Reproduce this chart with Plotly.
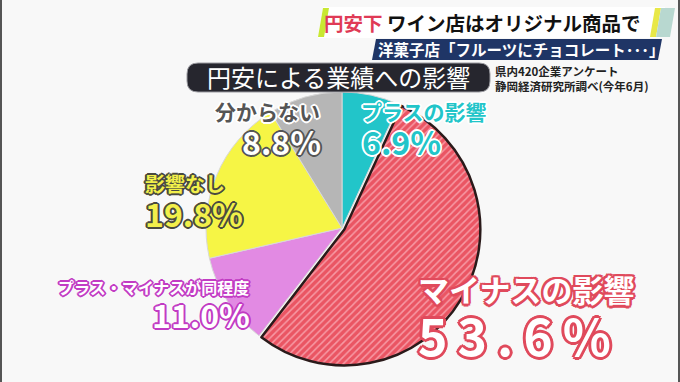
import plotly.graph_objects as go

W, H = 680, 382

# ---- data ----
labels = ["プラスの影響", "マイナスの影響", "プラス・マイナスが同程度", "影響なし", "分からない"]
values = [6.9, 53.6, 11.0, 19.8, 8.8]
slice_colors = ["#22c5c9", "#ea5563", "#e28ae3", "#f6f545", "#b6b6b6"]

title_text = "円安による業績への影響"
source_lines = ["県内420企業アンケート", "静岡経済研究所調べ(今年6月)"]
headline_red = "円安下"
headline_black = "ワイン店はオリジナル商品で"
subheadline = "洋菓子店「フルーツにチョコレート･･･」"

FONT = "Noto Sans CJK JP"
value_text = [f"{v:.1f}%" for v in values]


def px(x):
    return x / W


def py(y):
    return 1 - y / H


def outline(c, w=2):
    offs = [(w, 0), (-w, 0), (0, w), (0, -w), (w * .7, w * .7), (-w * .7, w * .7),
            (w * .7, -w * .7), (-w * .7, -w * .7)]
    return ", ".join(f"{a:.1f}px {b:.1f}px 0 {c}" for a, b in offs)


fig = go.Figure()

# pie geometry (pixel centre / radius)
cx, cy, r, pull = 342, 228, 136, 0.02
half = r * (1 + pull)
fig.add_trace(go.Pie(
    labels=labels, values=values, sort=False, direction="clockwise", rotation=0,
    textinfo="none", hoverinfo="label+percent", showlegend=False,
    pull=[0, pull, 0, 0, 0],
    marker=dict(
        colors=slice_colors,
        line=dict(color=["#d8d8d8", "#2a1a1a", "#d8d8d8", "#d8d8d8", "#d8d8d8"],
                  width=[1, 2.5, 1, 1, 1]),
        pattern=dict(shape=["", "/", "", "", ""], fgcolor="#f79aa5",
                     bgcolor=slice_colors, size=5, solidity=0.3),
    ),
    domain=dict(x=[px(cx - half), px(cx + half)], y=[py(cy + half), py(cy - half)]),
))

shapes = []
# edge borders
shapes.append(dict(type="rect", xref="paper", yref="paper", x0=0, x1=px(2), y0=0, y1=1,
                   fillcolor="#555", line_width=0, layer="above"))
shapes.append(dict(type="rect", xref="paper", yref="paper", x0=px(678), x1=1, y0=0, y1=1,
                   fillcolor="#555", line_width=0, layer="above"))


def para(x0, x1, y0, y1, skew):
    return (f"M {px(x0 + skew)} {py(y0)} L {px(x1 + skew)} {py(y0)} "
            f"L {px(x1)} {py(y1)} L {px(x0)} {py(y1)} Z")

shapes.append(dict(type="path", xref="paper", yref="paper", path=para(318, 660, 7, 38, 5),
                   fillcolor="white", line_width=0))
shapes.append(dict(type="path", xref="paper", yref="paper", path=para(318, 324, 8, 37, 5),
                   fillcolor="#c8e832", line_width=0))
shapes.append(dict(type="path", xref="paper", yref="paper", path=para(650, 656, 8, 37, 5),
                   fillcolor="#e8e848", line_width=0))
shapes.append(dict(type="path", xref="paper", yref="paper", path=para(656, 670, 8, 37, 5),
                   fillcolor="#b8d8d0", line_width=0))
shapes.append(dict(type="path", xref="paper", yref="paper", path=para(372, 658, 39, 60, 4),
                   fillcolor="#1f3566", line_width=0))


def rrect(x0, y0, x1, y1, rad):
    rx, ry = rad / W, rad / H
    X0, X1, Y0, Y1 = px(x0), px(x1), py(y1), py(y0)
    return (f"M {X0 + rx} {Y0} L {X1 - rx} {Y0} Q {X1} {Y0} {X1} {Y0 + ry} "
            f"L {X1} {Y1 - ry} Q {X1} {Y1} {X1 - rx} {Y1} L {X0 + rx} {Y1} "
            f"Q {X0} {Y1} {X0} {Y1 - ry} L {X0} {Y0 + ry} Q {X0} {Y0} {X0 + rx} {Y0} Z")

shapes.append(dict(type="path", xref="paper", yref="paper", path=rrect(187, 63, 490, 92, 11),
                   fillcolor="#26262e", line=dict(color="#9a9aa0", width=1)))

anns = []


def ann(x, y, text, size, color, xanchor="left", shadow=None, weight="bold"):
    f = dict(family=FONT, size=size, color=color, weight=weight)
    if shadow:
        f["shadow"] = shadow
    anns.append(dict(x=px(x), y=py(y), xref="paper", yref="paper", text=text, showarrow=False,
                     xanchor=xanchor, yanchor="middle", font=f, borderpad=0))

# headline texts
ann(323, 23, f"<span style='color:#e03a55'>{headline_red}</span> {headline_black}", 19.5, "#111")
ann(377, 49, subheadline, 15.5, "white")

# title & source
ann(338, 77, title_text, 24, "white", xanchor="center", weight="normal")
ann(494, 71, source_lines[0], 11.5, "#222", weight="bold")
ann(494, 86, source_lines[1], 11.5, "#222", weight="bold")

# slice labels
ann(360, 111, labels[0], 21, "#22c5c9", shadow=outline("white", 2))
ann(361, 141, value_text[0], 32, "#22c5c9", shadow=outline("white", 2))

ann(321, 111, labels[4], 21, "#555", xanchor="right", shadow=outline("white", 2))
ann(322, 141, value_text[4], 32, "white", xanchor="right", shadow=outline("#555", 2))

ann(144, 183, labels[3], 20, "#f2f04a", shadow=outline("#4a4a40", 2))
ann(144, 213, value_text[3], 32, "#f2f04a", shadow=outline("#4a4a40", 2))

ann(250, 287, labels[2], 16, "white", xanchor="right", shadow=outline("#c23cc4", 2))
ann(251, 314, value_text[2], 32, "white", xanchor="right", shadow=outline("#c23cc4", 2))

ann(417, 288, labels[1], 31, "white", shadow=outline("#e04a5c", 2.5))
big = "\u2009".join(value_text[1])
ann(417, 334, big, 50, "white", shadow=outline("#e04a5c", 3))

fig.update_layout(
    width=W, height=H, margin=dict(l=0, r=0, t=0, b=0),
    paper_bgcolor="#f8f8f8", plot_bgcolor="#f8f8f8",
    shapes=shapes, annotations=anns,
)
fig.write_html("out.html", config={"displayModeBar": False},
               post_script="document.body.style.margin='0';")
